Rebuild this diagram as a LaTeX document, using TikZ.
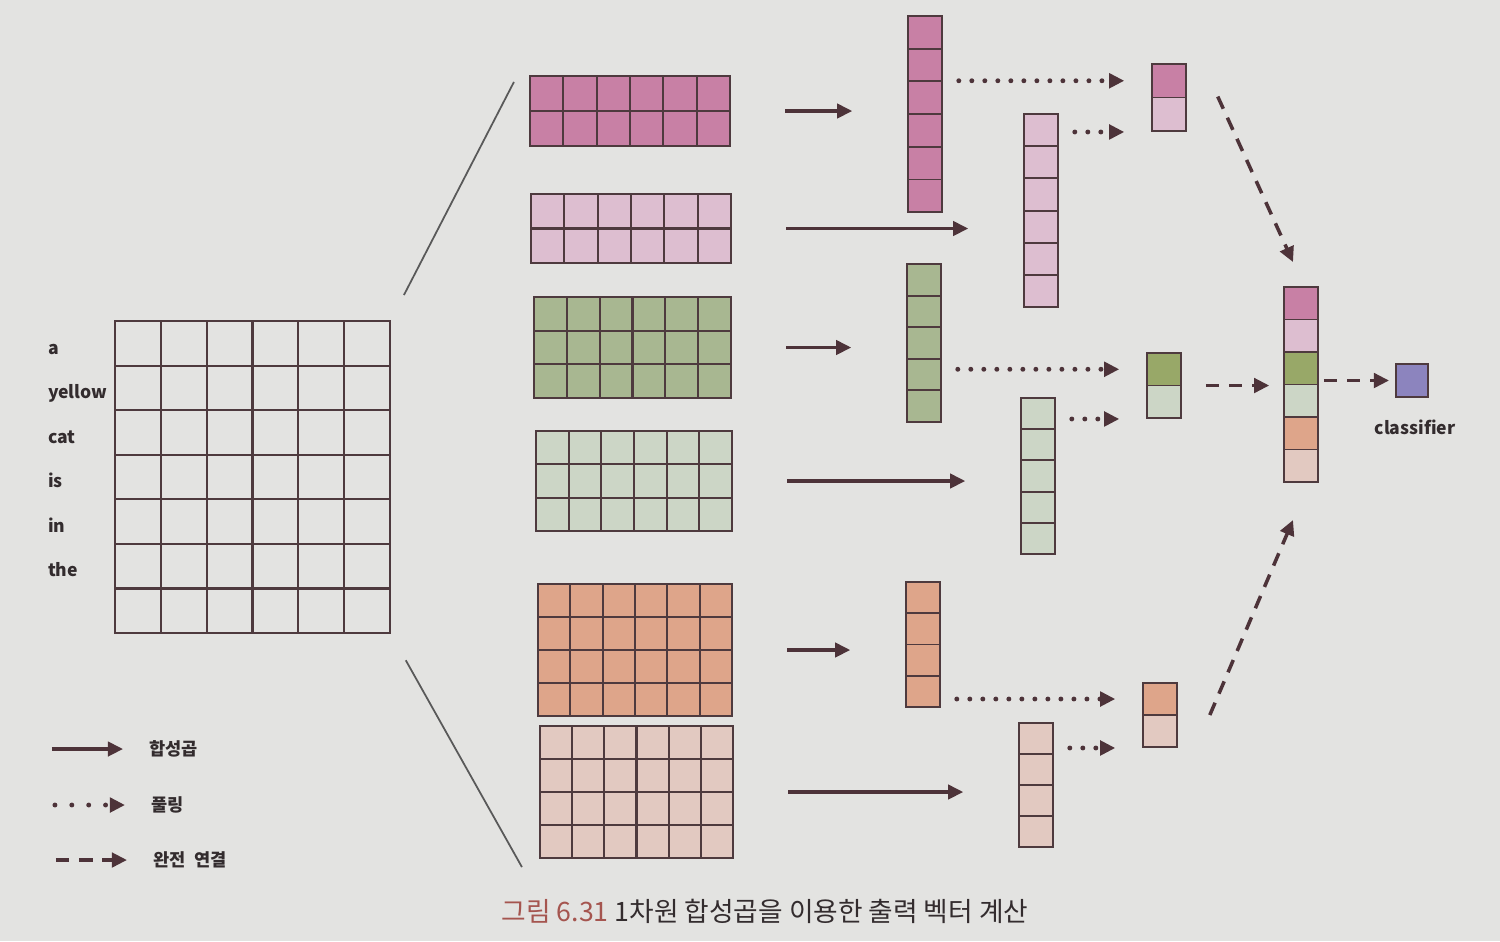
\documentclass[tikz,border=0pt]{standalone}
\usepackage{fontspec}
\setmainfont{Noto Sans CJK KR}
\usetikzlibrary{fit, arrows.meta, positioning}

\definecolor{paper}{HTML}{E3E3E1}
\definecolor{gridc}{HTML}{4E3A3E}
\definecolor{arrc}{HTML}{4D3339}
\definecolor{txtc}{HTML}{332C2E}
\definecolor{capred}{HTML}{A5554F}
\definecolor{pinkA}{RGB}{200,128,165}
\definecolor{pinkB}{RGB}{221,190,208}
\definecolor{greenA}{RGB}{168,183,145}
\definecolor{greenB}{RGB}{204,214,198}
\definecolor{olive}{RGB}{152,168,104}
\definecolor{orangeA}{RGB}{222,165,138}
\definecolor{orangeB}{RGB}{226,201,193}
\definecolor{violet}{RGB}{140,132,190}

% feature map: name, left, top, width, height, columns, rows, colour
\newcommand{\fmap}[8]{%
  \node[mapbox, fill=#8, fit={(#2,#3) (#2+#4,#3+#5)}] (#1) {};
  \foreach \c in {1,...,#6}
    \draw[gridline] (#2+\c*#4/#6, #3) -- (#2+\c*#4/#6, #3+#5);
  \foreach \r in {1,...,#7}
    \draw[gridline] (#2, #3+\r*#5/#7) -- (#2+#4, #3+\r*#5/#7);
}
% column vector: name, left, top, cell height, colours
\newcommand{\vcol}[5]{%
  \foreach \clr [count=\k] in {#5}
    \node[cell, fill=\clr, minimum height=#4*0.01cm] (#1-\k) at (#2+17, #3+\k*#4-#4/2) {};
}

\begin{document}
\begin{tikzpicture}[
        x = 0.01cm, y = -0.01cm, % one unit = one pixel, y going down
        > = {Triangle[length=4.3pt, width=4.1pt]}, % arrow head style
        semithick % line style
    ]

    \tikzstyle{mapbox}=[draw = gridc, line width = 0.6pt, inner sep = 0pt]
    \tikzstyle{gridline}=[draw = gridc, line width = 0.6pt]
    \tikzstyle{cell}=[draw = gridc, line width = 0.55pt, inner sep = 0pt,
        minimum width = 0.335cm]
    \tikzstyle{conv}=[->, draw = arrc, line width = 0.9pt,
        shorten <= 5.4mm, shorten >= 5.4mm]
    \tikzstyle{pool}=[->, draw = arrc, line width = 1.4pt, line cap = round,
        dash pattern = on 0pt off 3.7pt, shorten <= 1.5mm, shorten >= 2.7mm]
    \tikzstyle{full}=[->, draw = arrc, line width = 1pt,
        dash pattern = on 3.8pt off 2.8pt]
    \tikzstyle{fan}=[draw = black!65, line width = 0.5pt]
    \tikzstyle{word}=[text = txtc, inner sep = 0pt,
        font = \fontsize{5}{6}\selectfont\bfseries]
    \tikzstyle{legend}=[text = txtc, inner sep = 0pt, anchor = west,
        font = \fontsize{5}{6}\selectfont\bfseries]

    \fill[paper] (0,0) rectangle (1500,941);
    \useasboundingbox (0,0) rectangle (1500,941);

    % input sentence
    \fmap{inp}{115}{321}{275}{312}{6}{7}{none}
    \foreach \w [count=\k] in {a,yellow,cat,is,in,the}
        \node[word, anchor = base west] (w\k) at (47, 309.5+\k*44.5) {\w};

    % filter outputs
    \fmap{m1}{530}{76}{200}{70}{6}{2}{pinkA}
    \fmap{m2}{531}{194}{200}{69}{6}{2}{pinkB}
    \fmap{m3}{534}{297}{197}{101}{6}{3}{greenA}
    \fmap{m4}{536}{431}{196}{100}{6}{3}{greenB}
    \fmap{m5}{538}{584}{194}{132}{6}{4}{orangeA}
    \fmap{m6}{540}{726}{193}{132}{6}{4}{orangeB}

    \draw[fan, shorten <= 2.8mm] (inp.north east) -- ([xshift = -1.5mm, yshift = -0.7mm]m1.north west);
    \draw[fan, shorten <= 3mm] (inp.south east) -- ([xshift = -1.7mm, yshift = -0.8mm]m6.south west);

    % convolution results
    \vcol{colA}{908}{16}{32.7}{pinkA,pinkA,pinkA,pinkA,pinkA,pinkA}
    \vcol{colB}{1024}{114}{32.2}{pinkB,pinkB,pinkB,pinkB,pinkB,pinkB}
    \vcol{colC}{907}{264}{31.6}{greenA,greenA,greenA,greenA,greenA}
    \vcol{colD}{1021}{398}{31.2}{greenB,greenB,greenB,greenB,greenB}
    \vcol{colE}{906}{582}{31.25}{orangeA,orangeA,orangeA,orangeA}
    \vcol{colF}{1019}{723}{31}{orangeB,orangeB,orangeB,orangeB}
    \node[fit = (colA-1) (colA-6), inner sep = 0pt] (colA) {};
    \node[fit = (colB-1) (colB-6), inner sep = 0pt] (colB) {};
    \node[fit = (colC-1) (colC-5), inner sep = 0pt] (colC) {};
    \node[fit = (colD-1) (colD-5), inner sep = 0pt] (colD) {};
    \node[fit = (colE-1) (colE-4), inner sep = 0pt] (colE) {};
    \node[fit = (colF-1) (colF-4), inner sep = 0pt] (colF) {};

    \draw[conv] (m1.east) -- (m1.east -| colA.west);
    \draw[conv] (m2.east) -- (m2.east -| colB.west);
    \draw[conv] (m3.east) -- (m3.east -| colC.west);
    \draw[conv] (m4.east) -- (m4.east -| colD.west);
    \draw[conv] (m5.east) -- (m5.east -| colE.west);
    \draw[conv] (m6.east) -- (m6.east -| colF.west);

    % max pooling
    \vcol{P1}{1152}{64}{33.5}{pinkA,pinkB}
    \vcol{P2}{1147}{353}{32.5}{olive,greenB}
    \vcol{P3}{1143}{683}{32}{orangeA,orangeB}
    \node[fit = (P1-1) (P1-2), inner sep = 0pt] (P1) {};
    \node[fit = (P2-1) (P2-2), inner sep = 0pt] (P2) {};
    \node[fit = (P3-1) (P3-2), inner sep = 0pt] (P3) {};

    \draw[pool] (P1-1.west -| colA.east) -- (P1-1.west);
    \draw[pool] (P1-2.south west -| colB.east) -- (P1-2.south west);
    \draw[pool] (P2-1.west -| colC.east) -- (P2-1.west);
    \draw[pool] (P2-2.south west -| colD.east) -- (P2-2.south west);
    \draw[pool] (P3-1.west -| colE.east) -- (P3-1.west);
    \draw[pool] (P3-2.south west -| colF.east) -- (P3-2.south west);

    % concatenation and classifier
    \vcol{cat}{1284}{287}{32.5}{pinkA,pinkB,olive,greenB,orangeA,orangeB}
    \node[fit = (cat-1) (cat-6), inner sep = 0pt] (cat) {};
    \node[draw = gridc, fill = violet, line width = 0.55pt, inner sep = 0pt,
        minimum width = 0.32cm, minimum height = 0.33cm] (cls) at (1412,380.5) {};
    \node[word, below = 2.1mm of cls, xshift = 0.3mm] (clsname) {classifier};

    \draw[full] ([xshift = 3.1mm]P1-2.north east) -- ([xshift = -0.8mm, yshift = 2.4mm]cat-1.north);
    \draw[full, shorten <= 2.3mm, shorten >= 1.3mm] (P2.east) -- (P2.east -| cat.west);
    \draw[full] ([xshift = 3.1mm]P3.east) -- ([xshift = -0.8mm, yshift = -3.6mm]cat.south);
    \draw[full, shorten <= 0.4mm, shorten >= 0.6mm] (cls.west -| cat.east) -- (cls.west);

    % legend
    \node[legend] (lg1) at (148,749) {합성곱};
    \node[legend] (lg2) at (150,805) {풀링};
    \node[legend] (lg3) at (152,860) {완전\hspace{0.5em}연결};
    \draw[conv, shorten <= 0pt, shorten >= 0pt] ([xshift = -9.6mm]lg1.west) -- ([xshift = -2.5mm]lg1.west);
    \draw[pool, dash pattern = on 0pt off 4.8pt, shorten <= 0pt, shorten >= 0pt] ([xshift = -9.5mm]lg2.west) -- ([xshift = -2.5mm]lg2.west);
    \draw[full] ([xshift = -9.6mm]lg3.west) -- ([xshift = -2.5mm]lg3.west);

    \node[text = txtc, font = \fontsize{7.6}{9}\selectfont] (cap) at (765,911)
        {\textcolor{capred}{그림 6.31} 1차원 합성곱을 이용한 출력 벡터 계산};

\end{tikzpicture}
\end{document}
